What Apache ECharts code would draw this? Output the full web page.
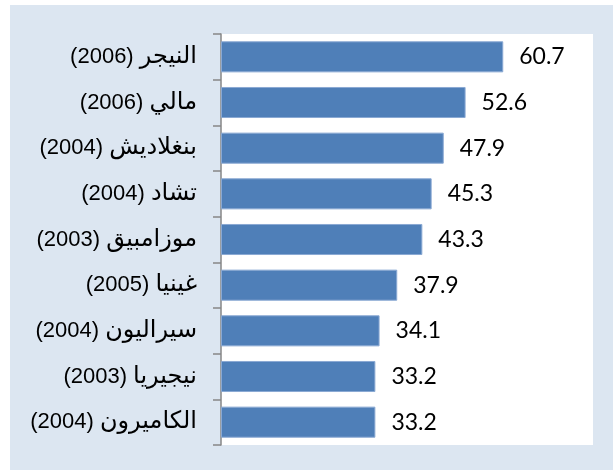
<!DOCTYPE html>
<html>
<head>
<meta charset="utf-8">
<script src="https://cdn.jsdelivr.net/npm/echarts@6/dist/echarts.min.js"></script>
<style>
  html, body { margin: 0; padding: 0; background: #fff; }
  #chart { width: 613px; height: 470px; }
</style>
</head>
<body>
<div id="chart"></div>
<script>
// categories, top to bottom
const countries = [
  'النيجر (2006)',
  'مالي (2006)',
  'بنغلاديش (2004)',
  'تشاد (2004)',
  'موزامبيق (2003)',
  'غينيا (2005)',
  'سيراليون (2004)',
  'نيجيريا (2003)',
  'الكاميرون (2004)'
]
const values = [60.7, 52.6, 47.9, 45.3, 43.3, 37.9, 34.1, 33.2, 33.2]

const myChart = echarts.init(document.getElementById('chart'))
myChart.setOption({
  animation: false,
  graphic: [
    {
      type: 'rect',
      z: -10,
      shape: { x: 10, y: 5, width: 603, height: 465 },
      style: { fill: '#dce6f1' }
    }
  ],
  grid: {
    left: 221,
    right: 20,
    top: 34,
    bottom: 25,
    show: true,
    backgroundColor: '#fff',
    borderWidth: 0
  },
  xAxis: {
    type: 'value',
    min: 0,
    max: 80,
    show: false
  },
  yAxis: {
    type: 'category',
    inverse: true,
    data: countries,
    axisLine: { show: true, lineStyle: { color: '#868686', width: 1.5 } },
    axisTick: { show: true, length: 8, lineStyle: { color: '#868686', width: 1.5 } },
    axisLabel: {
      margin: 24,
      color: '#000',
      fontSize: 22,
      // year on the left, arabic name on the right (rtl reading order)
      formatter: v => {
        const i = v.indexOf(' (')
        return '{y|' + v.slice(i + 1) + '} {a|' + v.slice(0, i) + '}'
      },
      rich: {
        y: { fontSize: 22, fontFamily: 'Arimo, "Liberation Sans", Arial, sans-serif', color: '#000' },
        a: { fontSize: 24, fontFamily: '"DejaVu Sans", sans-serif', color: '#000' }
      }
    }
  },
  series: [
    {
      type: 'bar',
      data: values,
      barCategoryGap: '32%',
      itemStyle: {
        color: '#4f7fb8',
        borderColor: '#8aa9d3',
        borderWidth: 1
      },
      label: {
        show: true,
        position: 'right',
        distance: 16,
        color: '#000',
        fontSize: 23,
        fontFamily: 'Lato, sans-serif',
        formatter: p => p.value.toFixed(1)
      }
    }
  ]
})
</script>
</body>
</html>
